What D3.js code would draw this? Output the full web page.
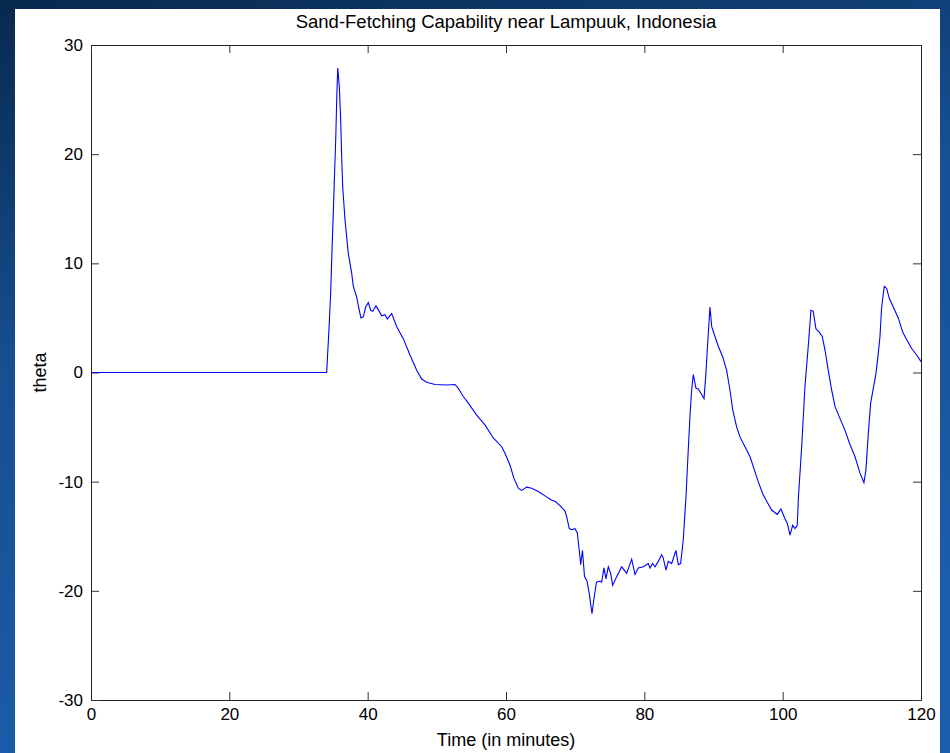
<!DOCTYPE html>
<html>
<head>
<meta charset="utf-8">
<script src="https://cdn.jsdelivr.net/npm/d3@7"></script>
<style>
  html, body { margin: 0; padding: 0; }
  body { width: 950px; height: 753px; overflow: hidden; }
  svg text { font-family: "Liberation Sans", Arial, sans-serif; fill: #000; }
</style>
</head>
<body>
<svg id="chart" width="950" height="753"></svg>
<script>
// time axis (minutes) and theta values
const timeMin = [0, 34.07, 34.45, 34.65, 34.89, 35.03, 35.17, 35.38, 35.52, 35.67, 35.90, 36.10, 36.24, 36.39, 36.72, 37.20, 37.69, 37.92, 38.41, 38.79,
  39.03, 39.37, 39.71, 40.09, 40.44, 40.73, 41.20, 41.68, 42.03, 42.51, 42.84, 43.47, 44.20, 45.15, 46.12, 47.09, 47.81, 48.53, 49.73, 51.42,
  52.62, 53.10, 53.82, 54.55, 55.76, 56.96, 58.16, 59.38, 59.85, 60.58, 61.15, 61.78, 62.27, 62.99, 63.71, 64.67, 65.64, 66.60, 67.08, 67.80,
  68.53, 68.77, 69.15, 69.50, 69.97, 70.31, 70.59, 70.80, 71.06, 71.35, 71.71, 72.07, 72.43, 72.72, 73.08, 73.59, 73.83, 74.16, 74.45, 74.79,
  75.13, 75.42, 76.00, 76.72, 77.45, 78.17, 78.65, 79.13, 79.85, 80.57, 80.82, 81.21, 81.54, 82.02, 82.51, 82.74, 83.13, 83.46, 83.95, 84.57,
  84.91, 85.25, 85.63, 86.02, 86.35, 86.60, 86.84, 87.08, 87.47, 87.80, 88.19, 88.63, 88.87, 89.01, 89.25, 89.49, 89.74, 90.21, 90.69, 91.33,
  91.90, 92.38, 92.77, 93.35, 93.83, 94.55, 95.27, 96.00, 96.47, 97.11, 97.69, 98.41, 99.22, 99.75, 100.33, 100.67, 101.06, 101.45, 101.78, 102.11,
  102.28, 102.75, 103.22, 103.70, 104.09, 104.42, 104.81, 105.29, 105.72, 106.11, 106.59, 107.08, 107.56, 108.28, 109.01, 109.73, 110.45, 111.17, 111.75, 112.04,
  112.38, 112.72, 113.10, 113.49, 113.82, 114.07, 114.31, 114.69, 115.04, 115.41, 115.99, 116.71, 117.35, 117.93, 118.65, 119.37, 120];

const theta = [0, 0, 4.5, 7.3, 12.1, 14.6, 17.4, 21.3, 24.9, 27.9, 26.2, 23.1, 19.8, 17.0, 14.0, 10.9, 9.1, 7.9, 6.9, 5.7,
  5.0, 5.1, 6.0, 6.4, 5.7, 5.6, 6.1, 5.6, 5.2, 5.3, 4.9, 5.4, 4.2, 3.1, 1.6, 0.2, -0.6, -0.9, -1.1, -1.15,
  -1.1, -1.45, -2.2, -2.8, -3.9, -4.8, -6.0, -6.8, -7.4, -8.5, -9.7, -10.6, -10.8, -10.5, -10.6, -10.9, -11.3, -11.7, -11.8, -12.2,
  -12.7, -13.2, -14.3, -14.4, -14.3, -14.7, -16.3, -17.6, -16.3, -18.7, -19.1, -20.4, -22.1, -20.7, -19.2, -19.1, -19.2, -17.9, -18.9, -17.8,
  -18.4, -19.5, -18.7, -17.8, -18.4, -17.1, -18.5, -17.9, -17.8, -17.5, -17.9, -17.5, -17.8, -17.3, -16.7, -17.0, -18.1, -17.3, -17.5, -16.3,
  -17.6, -17.5, -15.3, -11.4, -7.1, -4.0, -1.6, -0.2, -1.45, -1.5, -1.9, -2.4, -0.4, 1.1, 3.6, 6.0, 4.2, 3.3, 2.4, 1.45,
  0.2, -1.6, -3.4, -5.0, -5.9, -6.8, -7.7, -9.1, -10.0, -11.1, -11.8, -12.6, -13.0, -12.5, -13.4, -13.8, -14.9, -14.0, -14.3, -14.0,
  -11.4, -6.8, -1.3, 2.4, 5.7, 5.6, 4.0, 3.7, 3.3, 2.1, 0.2, -1.6, -3.1, -4.2, -5.3, -6.6, -7.7, -9.2, -10.1, -8.9,
  -5.6, -2.8, -1.45, -0.1, 1.75, 3.3, 6.0, 7.9, 7.7, 6.8, 6.0, 5.0, 3.7, 3.0, 2.2, 1.6, 1.0];

const xTicks = [0, 20, 40, 60, 80, 100, 120];
const yTicks = [-30, -20, -10, 0, 10, 20, 30];

const titleText = "Sand-Fetching Capability near Lampuuk, Indonesia";
const xLabel = "Time (in minutes)";
const yLabel = "theta";

const W = 950, H = 753;
const plotL = 91, plotR = 921, plotT = 45, plotB = 700;

const svg = d3.select("#chart");

// slide background
const defs = svg.append("defs");
const bg = defs.append("linearGradient")
    .attr("id", "slideBg")
    .attr("x1", "0%").attr("y1", "0%")
    .attr("x2", "30%").attr("y2", "100%");
bg.append("stop").attr("offset", "0%").attr("stop-color", "#08294e");
bg.append("stop").attr("offset", "45%").attr("stop-color", "#164f92");
bg.append("stop").attr("offset", "100%").attr("stop-color", "#1c5dab");

svg.append("rect")
    .attr("width", W).attr("height", H)
    .attr("fill", "url(#slideBg)");

// white figure area
svg.append("rect")
    .attr("x", 15).attr("y", 9)
    .attr("width", 925).attr("height", H - 9)
    .attr("fill", "#fff");

const x = d3.scaleLinear([0, 120], [plotL, plotR]);
const y = d3.scaleLinear([-30, 30], [plotB, plotT]);

const tickLen = 8;
const plainNum = d => String(d); // keep the ascii hyphen for negatives

svg.append("g")
    .attr("class", "x-axis")
    .attr("transform", `translate(0, ${plotB})`)
    .call(d3.axisBottom(x).tickValues(xTicks).tickFormat(plainNum).tickSizeInner(-tickLen).tickSizeOuter(0).tickPadding(8))
    .call(g => g.selectAll("text").attr("font-size", "17px"));

svg.append("g")
    .attr("class", "y-axis")
    .attr("transform", `translate(${plotL}, 0)`)
    .call(d3.axisLeft(y).tickValues(yTicks).tickFormat(plainNum).tickSizeInner(-tickLen).tickSizeOuter(0).tickPadding(8))
    .call(g => g.selectAll("text").attr("font-size", "17px"));

svg.append("g")
    .attr("transform", `translate(0, ${plotT})`)
    .call(d3.axisTop(x).tickValues(xTicks).tickSizeInner(-tickLen).tickSizeOuter(0).tickFormat(""));

svg.append("g")
    .attr("transform", `translate(${plotR}, 0)`)
    .call(d3.axisRight(y).tickValues(yTicks).tickSizeInner(-tickLen).tickSizeOuter(0).tickFormat(""));

svg.selectAll(".domain").attr("stroke", "#222");
svg.selectAll(".tick line").attr("stroke", "#333");

// series
const series = timeMin.map((t, i) => ({t, v: theta[i]}));
const line = d3.line()
    .x(d => x(d.t))
    .y(d => y(d.v));

svg.append("path")
    .datum(series)
    .attr("fill", "none")
    .attr("stroke", "#0000ff")
    .attr("stroke-width", 1.1)
    .attr("d", line);

// texts
svg.append("text")
    .attr("x", (plotL + plotR) / 2)
    .attr("y", 28)
    .attr("text-anchor", "middle")
    .attr("font-size", "18.5px")
    .text(titleText);

svg.append("text")
    .attr("x", (plotL + plotR) / 2)
    .attr("y", 746)
    .attr("text-anchor", "middle")
    .attr("font-size", "18px")
    .text(xLabel);

svg.append("text")
    .attr("transform", `translate(46, ${(plotT + plotB) / 2}) rotate(-90)`)
    .attr("text-anchor", "middle")
    .attr("font-size", "18px")
    .text(yLabel);
</script>
</body>
</html>
